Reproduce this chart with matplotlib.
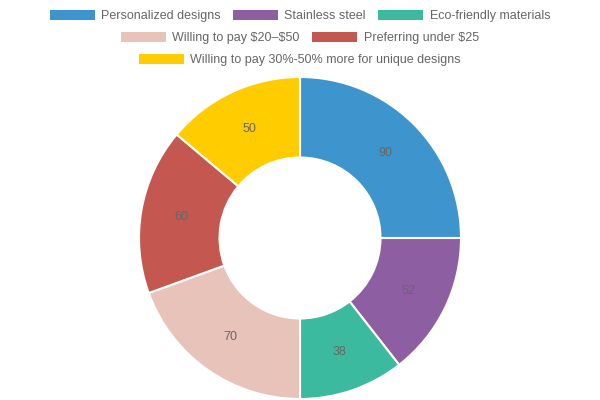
import numpy as np
import matplotlib.pyplot as plt
from matplotlib.patches import Patch

plt.rcParams['font.family'] = ['Liberation Sans', 'DejaVu Sans']

labels = ["Personalized designs", "Stainless steel", "Eco-friendly materials",
          "Willing to pay \\$20\u2013\\$50", "Preferring under \\$25",
          "Willing to pay 30%-50% more for unique designs"]
values = [90, 52, 38, 70, 60, 50]
colors = ["#3e95cd", "#8e5ea2", "#3cba9f", "#e8c3b9", "#c45850", "#ffcc00"]
rows = [[0, 1, 2], [3, 4], [5]]

fig = plt.figure(figsize=(6, 4), dpi=100)
ax = fig.add_axes([(300 - 161) / 600, (162 - 161) / 400, 322 / 600, 322 / 400])
wedges, _ = ax.pie(values, colors=colors, startangle=90, counterclock=False,
                   wedgeprops=dict(width=0.5, edgecolor="white", linewidth=1.5))
ax.set_xlim(-1, 1)
ax.set_ylim(-1, 1)
ax.set_aspect("equal")

total = sum(values)
start = 90.0
for v in values:
    mid = np.deg2rad(start - v / total * 360 / 2)
    ax.text(0.75 * np.cos(mid), 0.75 * np.sin(mid), str(v), ha="center",
            va="center", fontsize=9, color="#666666")
    start -= v / total * 360

for i, row in enumerate(rows):
    handles = [Patch(facecolor=colors[j], label=labels[j]) for j in row]
    fig.legend(handles=handles, loc="center", bbox_to_anchor=(0.5, 1 - (16 + 22 * i) / 400),
               ncol=len(row), frameon=False, fontsize=9, labelcolor="#666666",
               handlelength=3.6, handleheight=0.8, handletextpad=0.5,
               columnspacing=1.0, borderpad=0)

fig.savefig("out.png", dpi=100)
